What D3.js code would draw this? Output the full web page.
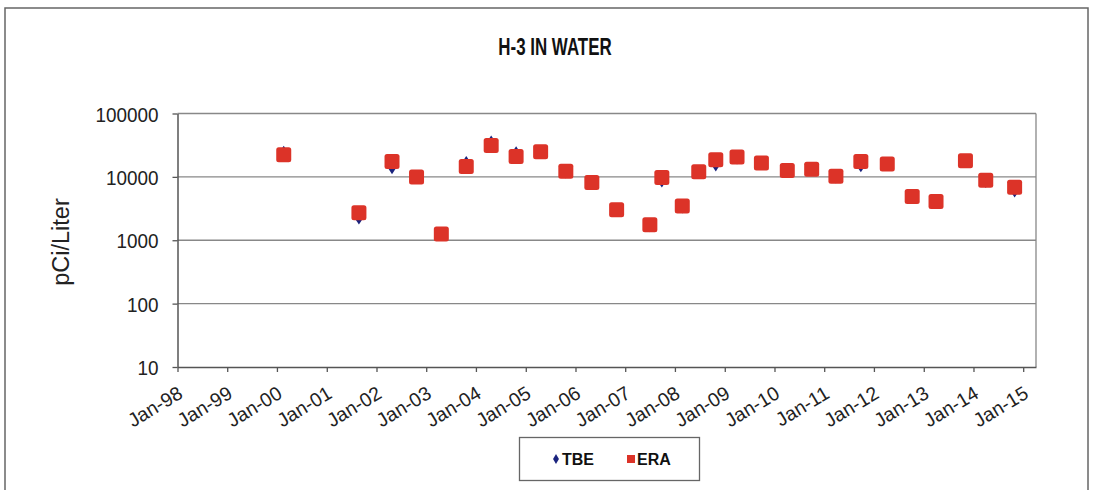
<!DOCTYPE html>
<html><head><meta charset="utf-8">
<script src="https://cdn.jsdelivr.net/npm/d3@7"></script>
<style>body{margin:0;background:#fff}svg{display:block}text{font-family:Arial,"Liberation Sans",sans-serif}</style>
</head><body><svg id="c" width="1094" height="490"></svg>
<script>
const chartTitle = "H-3 IN WATER";
const yTitle = "pCi/Liter";
const dates = ["2000-02-20","2001-08-25","2002-04-25","2002-10-22","2003-04-22","2003-10-22","2004-04-22","2004-10-22","2005-04-20","2005-10-22","2006-05-01","2006-10-30","2007-07-01","2007-09-27","2008-02-24","2008-06-24","2008-10-27","2009-04-01","2009-09-27","2010-04-05","2010-10-01","2011-03-28","2011-09-27","2012-04-08","2012-10-08","2013-04-01","2013-11-03","2014-04-01","2014-10-30"];
const tbe = [24500,2250,14000,9800,1250,16800,35400,24000,24500,12000,7900,2950,1700,8640,3350,12000,15500,20000,16500,12500,13000,10000,15000,16000,4800,4000,18000,8500,6000];
const era = [22300,2720,17500,10000,1250,14550,31300,20950,24900,12300,8130,3040,1760,9750,3480,12100,18600,20500,16500,12600,13200,10250,17500,16000,4890,4070,17900,8860,6870];
const yTicks = [10,100,1000,10000,100000];
const xTickYears = d3.range(1998,2016);
const seriesNames = ["TBE","ERA"];

const svg = d3.select("#c");
const L=177.5, R=1036, T=113.5, B=367;
const parse = d3.timeParse("%Y-%m-%d");
const x = d3.scaleTime().domain([new Date(1998,0,1), new Date(2015,3,5)]).range([L,R]);
const y = d3.scaleLog().domain([10,100000]).range([B,T]);

// outer frame
svg.append("rect").attr("x",5).attr("y",8).attr("width",1083).attr("height",490).attr("fill","none").attr("stroke","#666").attr("stroke-width",1.5);

// title
svg.append("text").attr("transform",`translate(555,55) scale(0.72,1)`).attr("text-anchor","middle")
  .attr("font-weight","bold").attr("font-size",23.5).attr("fill","#111").text(chartTitle);

// gridlines
svg.append("g").selectAll("line").data(yTicks.slice(1)).join("line")
  .attr("x1",L).attr("x2",R).attr("y1",d=>y(d)).attr("y2",d=>y(d)).attr("stroke","#888").attr("stroke-width",1.3);
// right border
svg.append("line").attr("x1",R).attr("x2",R).attr("y1",T).attr("y2",B).attr("stroke","#888").attr("stroke-width",1.3);

// y axis
const ya = svg.append("g").attr("transform",`translate(${L},0)`)
  .call(d3.axisLeft(y).tickValues(yTicks).tickFormat(d3.format("d")).tickSize(5).tickSizeOuter(0));
ya.select(".domain").attr("stroke","#555").attr("stroke-width",1.5);
ya.selectAll(".tick line").attr("stroke","#555").attr("stroke-width",1.3);
ya.selectAll(".tick text").attr("x",null).attr("dy","0.36em").attr("transform","translate(-19,0) scale(0.9,1)")
  .attr("font-size",21).attr("fill","#222");

// x axis
const xa = svg.append("g").attr("transform",`translate(0,${B})`)
  .call(d3.axisBottom(x).tickValues(xTickYears.map(yr=>new Date(yr,0,1))).tickFormat(d3.timeFormat("Jan-%y")).tickSize(5).tickSizeOuter(0));
xa.select(".domain").attr("stroke","#555").attr("stroke-width",1.5);
xa.selectAll(".tick line").attr("stroke","#555").attr("stroke-width",1.3);
xa.selectAll(".tick text").attr("y",null).attr("dy",null).attr("text-anchor","end")
  .attr("transform","translate(6,30) rotate(-31)").attr("font-size",19.5).attr("fill","#222");
svg.selectAll(".domain").raise();

// y title
svg.append("text").attr("transform","translate(69,242) rotate(-90)").attr("text-anchor","middle")
  .attr("font-size",23.5).attr("fill","#222").text(yTitle);

const pts = dates.map((d,i)=>({d:parse(d), t:tbe[i], e:era[i]}));
const diamond = d3.symbol().type(d3.symbolDiamond).size(50);
svg.append("g").selectAll("path").data(pts).join("path")
  .attr("d",diamond).attr("transform",p=>`translate(${x(p.d)},${y(p.t)}) scale(1.15,1)`).attr("fill","#1a237e");
svg.append("g").selectAll("rect").data(pts).join("rect")
  .attr("x",p=>x(p.d)-7.5).attr("y",p=>y(p.e)-7.5).attr("width",15).attr("height",15).attr("rx",2.5)
  .attr("fill","#dc3328");

// legend
const lg = svg.append("g");
lg.append("rect").attr("x",519.5).attr("y",437.5).attr("width",180).attr("height",43).attr("fill","#fff").attr("stroke","#666").attr("stroke-width",1.3);
lg.append("path").attr("d",d3.symbol().type(d3.symbolDiamond).size(30)).attr("transform","translate(556,459)").attr("fill","#1a237e");
lg.append("text").attr("x",562).attr("y",465).attr("font-size",16).attr("font-weight","bold").attr("fill","#111").text(seriesNames[0]);
lg.append("rect").attr("x",627).attr("y",455).attr("width",8).attr("height",8).attr("fill","#dc3328");
lg.append("text").attr("x",637).attr("y",465).attr("font-size",16).attr("font-weight","bold").attr("fill","#111").text(seriesNames[1]);
</script></body></html>
